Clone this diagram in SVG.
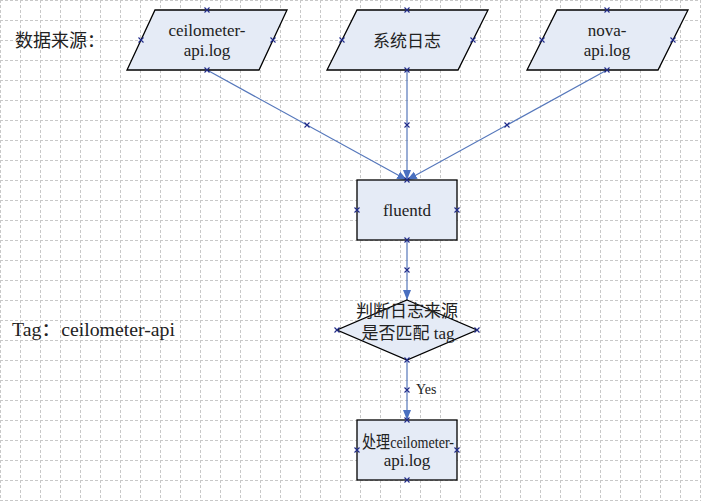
<svg xmlns="http://www.w3.org/2000/svg" width="701" height="501" viewBox="0 0 701 501">
<defs>
<pattern id="grid" width="20" height="20" patternUnits="userSpaceOnUse">
<path d="M0,0.5 H20 M0.5,0 V20" fill="none" stroke="#c8c8c8" stroke-width="1" stroke-dasharray="3 2"/>
</pattern>
<marker id="arr" markerUnits="userSpaceOnUse" markerWidth="10" markerHeight="10" refX="10" refY="5" orient="auto">
<path d="M0,1 L10,5 L0,9 z" fill="#4a70c0"/>
</marker>
<path id="xm" d="M-2.5,-2.5L2.5,2.5M-2.5,2.5L2.5,-2.5" fill="none" stroke="#1f2a8a" stroke-width="1.1"/>
<style>
.shape{fill:#e5ebf6;stroke:#000;stroke-width:1.3}
.lbl{font-family:"Liberation Serif","Noto Sans CJK SC",serif;font-size:17px;fill:#222;text-anchor:middle}
.cj{font-family:"Liberation Serif","Noto Sans CJK SC",serif;fill:#222}
.conn{fill:none;stroke:#5577bb;stroke-width:1.2}
</style>
</defs>
<rect width="701" height="501" fill="#fff"/>
<rect width="701" height="501" fill="url(#grid)"/>

<text class="cj" x="15" y="47" font-size="18">数据来源：</text>
<text class="cj" x="12" y="336" font-size="18" textLength="163" lengthAdjust="spacingAndGlyphs">Tag：ceilometer-api</text>

<g id="connectors">
<line class="conn" x1="207" y1="70" x2="407" y2="180" marker-end="url(#arr)"/>
<line class="conn" x1="407" y1="70" x2="407" y2="180" marker-end="url(#arr)"/>
<line class="conn" x1="607" y1="70" x2="407" y2="180" marker-end="url(#arr)"/>
<line class="conn" x1="407" y1="240" x2="407" y2="300" marker-end="url(#arr)"/>
<line class="conn" x1="407" y1="360" x2="407" y2="420" marker-end="url(#arr)"/>
<text class="cj" x="416" y="394" font-size="14">Yes</text>
<use href="#xm" x="307" y="125"/>
<use href="#xm" x="407" y="125"/>
<use href="#xm" x="507" y="125"/>
<use href="#xm" x="407" y="270"/>
<use href="#xm" x="407" y="390"/>
</g>

<g id="src1">
<polygon class="shape" points="155,10 287,10 259,70 127,70"/>
<text class="lbl" x="207" y="36">ceilometer-</text>
<text class="lbl" x="207" y="56">api.log</text>
<use href="#xm" x="207" y="10"/><use href="#xm" x="141" y="40"/><use href="#xm" x="273" y="40"/><use href="#xm" x="207" y="70"/>
</g>

<g id="src2">
<polygon class="shape" points="357,10 488,10 458,70 327,70"/>
<text class="lbl" x="407" y="47" font-size="16">系统日志</text>
<use href="#xm" x="407" y="10"/><use href="#xm" x="342" y="40"/><use href="#xm" x="473" y="40"/><use href="#xm" x="407" y="70"/>
</g>

<g id="src3">
<polygon class="shape" points="557,10 688,10 658,70 527,70"/>
<text class="lbl" x="607" y="36">nova-</text>
<text class="lbl" x="607" y="56">api.log</text>
<use href="#xm" x="607" y="10"/><use href="#xm" x="542" y="40"/><use href="#xm" x="673" y="40"/><use href="#xm" x="607" y="70"/>
</g>

<g id="fluentd">
<rect class="shape" x="357" y="180" width="100" height="60"/>
<text class="lbl" x="407" y="216">fluentd</text>
<use href="#xm" x="407" y="180"/><use href="#xm" x="357" y="210"/><use href="#xm" x="457" y="210"/><use href="#xm" x="407" y="240"/>
</g>

<g id="decision">
<polygon class="shape" points="407,300 477,330 407,360 337,330"/>
<text class="lbl" x="407" y="317" font-size="16.5">判断日志来源</text>
<text class="lbl" x="408" y="339" font-size="16.5">是否匹配 tag</text>
<use href="#xm" x="337" y="330"/><use href="#xm" x="477" y="330"/><use href="#xm" x="407" y="360"/>
</g>

<g id="process">
<rect class="shape" x="357" y="420" width="100" height="60"/>
<text class="lbl" x="408" y="448" font-size="15" textLength="92" lengthAdjust="spacingAndGlyphs">处理ceilometer-</text>
<text class="lbl" x="407" y="466" font-size="15">api.log</text>
<use href="#xm" x="407" y="420"/><use href="#xm" x="357" y="450"/><use href="#xm" x="457" y="450"/><use href="#xm" x="407" y="480"/>
</g>
</svg>
